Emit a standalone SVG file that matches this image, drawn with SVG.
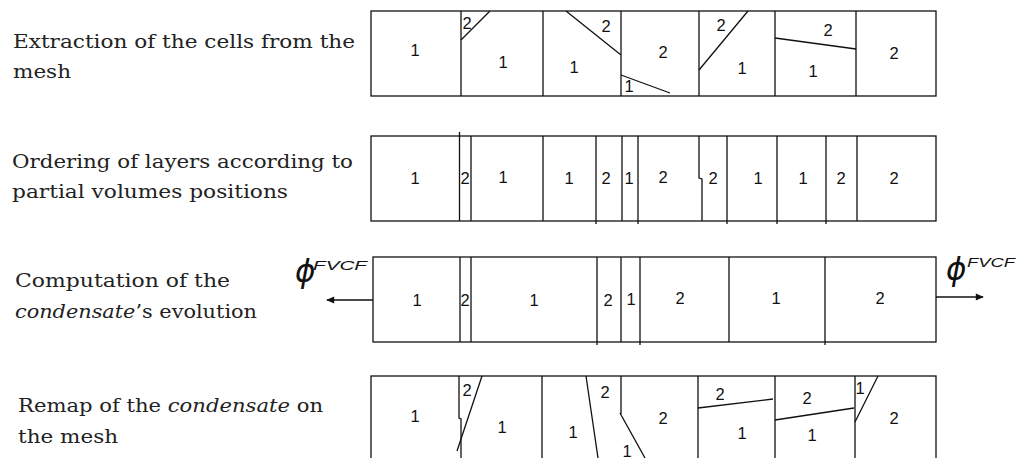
<svg xmlns="http://www.w3.org/2000/svg" width="1025" height="458" viewBox="0 0 1025 458">
<style>
.lbl{font-family:"DejaVu Serif","Liberation Serif",serif;font-size:19px;fill:#222}
.it{font-style:italic}
.n{font-family:"Liberation Sans",Arial,sans-serif;font-size:16.5px;fill:#111;text-anchor:middle}
.box{fill:#fff;stroke:#111;stroke-width:1.3}
.ln{stroke:#111;stroke-width:1.3;fill:none}
.phi{font-family:"DejaVu Sans","Liberation Sans",sans-serif;font-size:31px;font-style:italic;fill:#111}
.sup{font-family:"Liberation Sans",Arial,sans-serif;font-size:13px;font-style:italic;fill:#111}
</style>
<defs>
<marker id="ah" viewBox="0 0 10 10" refX="9" refY="5" markerWidth="9" markerHeight="8" orient="auto" markerUnits="userSpaceOnUse">
<path d="M0,0.5 L10,5 L0,9.5 Z" fill="#111"/>
</marker>
</defs>
<rect width="1025" height="458" fill="#fff"/>

<g id="labels">
<text class="lbl" x="13" y="48" textLength="342" lengthAdjust="spacingAndGlyphs">Extraction of the cells from the</text>
<text class="lbl" x="13" y="78" textLength="58" lengthAdjust="spacingAndGlyphs">mesh</text>
<text class="lbl" x="12" y="168" textLength="341" lengthAdjust="spacingAndGlyphs">Ordering of layers according to</text>
<text class="lbl" x="12" y="198" textLength="276" lengthAdjust="spacingAndGlyphs">partial volumes positions</text>
<text class="lbl" x="15" y="287" textLength="215" lengthAdjust="spacingAndGlyphs">Computation of the</text>
<text class="lbl" x="15" y="318" textLength="242" lengthAdjust="spacingAndGlyphs"><tspan class="it">condensate</tspan>’s evolution</text>
<text class="lbl" x="18" y="412" textLength="305" lengthAdjust="spacingAndGlyphs">Remap of the <tspan class="it">condensate</tspan> on</text>
<text class="lbl" x="18" y="443" textLength="100" lengthAdjust="spacingAndGlyphs">the mesh</text>
</g>

<g id="row1">
<rect class="box" x="371" y="11" width="565" height="85"/>
<path class="ln" d="M461,11V96 M543,11V96 M621,11V96 M699,11V96 M775,11V96 M856,11V96"/>
<path class="ln" d="M461,40L490,11 M566,11L621,55 M621,75L670,93 M699,70L748,11 M775,38L856,49"/>
<text class="n" x="415" y="56">1</text>
<text class="n" x="467" y="29">2</text>
<text class="n" x="503" y="68">1</text>
<text class="n" x="606" y="32">2</text>
<text class="n" x="574" y="73">1</text>
<text class="n" x="663" y="58">2</text>
<text class="n" x="629" y="92">1</text>
<text class="n" x="721" y="31">2</text>
<text class="n" x="742" y="74">1</text>
<text class="n" x="828" y="36">2</text>
<text class="n" x="813" y="77">1</text>
<text class="n" x="894" y="59">2</text>
</g>

<g id="row2">
<rect class="box" x="371" y="136" width="565" height="85"/>
<path class="ln" d="M459.5,132V221 M471,136V221 M543,136V221 M596,136V224 M622,136V221 M638,136V224 M699,136V178 L702,179V221 M727,136V224 M777,136V224 M826,136V224 M857,136V221"/>
<text class="n" x="415" y="184">1</text>
<text class="n" x="465" y="184">2</text>
<text class="n" x="503" y="183">1</text>
<text class="n" x="569" y="184">1</text>
<text class="n" x="606" y="184">2</text>
<text class="n" x="629" y="184">1</text>
<text class="n" x="663" y="183">2</text>
<text class="n" x="713" y="184">2</text>
<text class="n" x="758" y="184">1</text>
<text class="n" x="803" y="184">1</text>
<text class="n" x="841" y="184">2</text>
<text class="n" x="894" y="184">2</text>
</g>

<g id="row3">
<rect class="box" x="373" y="257" width="563" height="85"/>
<path class="ln" d="M460,257V342 M471,257V342 M597,257V345 M621,257V342 M640,257V345 M729,257V342 M825,257V345"/>
<text class="n" x="417" y="306">1</text>
<text class="n" x="465" y="306">2</text>
<text class="n" x="534" y="306">1</text>
<text class="n" x="608" y="306">2</text>
<text class="n" x="631" y="305">1</text>
<text class="n" x="680" y="304">2</text>
<text class="n" x="776" y="304">1</text>
<text class="n" x="880" y="304">2</text>
</g>

<g id="flux-left">
<text class="phi" x="295" y="282">ϕ</text>
<text class="sup" x="313" y="270" textLength="54" lengthAdjust="spacingAndGlyphs">FVCF</text>
</g>
<g id="flux-right">
<text class="phi" x="946" y="280">ϕ</text>
<text class="sup" x="967" y="267" textLength="48" lengthAdjust="spacingAndGlyphs">FVCF</text>
</g>

<g id="row4">
<rect class="box" x="371" y="376" width="565" height="100"/>
<path class="ln" d="M459,376V418 L461,419V470 M542,376V470 M621,376V414 M698,376V470 M775,376V470 M855,376V470"/>
<path class="ln" d="M482,376L457,451 M586,376L598,458 M620,413L645,458 M698,408L773,399 M775,420L854,408 M855,422L878,376"/>
<text class="n" x="415" y="422">1</text>
<text class="n" x="467" y="396">2</text>
<text class="n" x="502" y="433">1</text>
<text class="n" x="573" y="438">1</text>
<text class="n" x="605" y="398">2</text>
<text class="n" x="663" y="424">2</text>
<text class="n" x="627" y="457">1</text>
<text class="n" x="720" y="400">2</text>
<text class="n" x="742" y="439">1</text>
<text class="n" x="807" y="404">2</text>
<text class="n" x="812" y="441">1</text>
<text class="n" x="860" y="394">1</text>
<text class="n" x="894" y="424">2</text>
</g>

<g id="connectors">
<line class="ln" x1="373" y1="300" x2="327" y2="300" marker-end="url(#ah)"/>
<line class="ln" x1="936" y1="297" x2="983" y2="297" marker-end="url(#ah)"/>
</g>
</svg>
